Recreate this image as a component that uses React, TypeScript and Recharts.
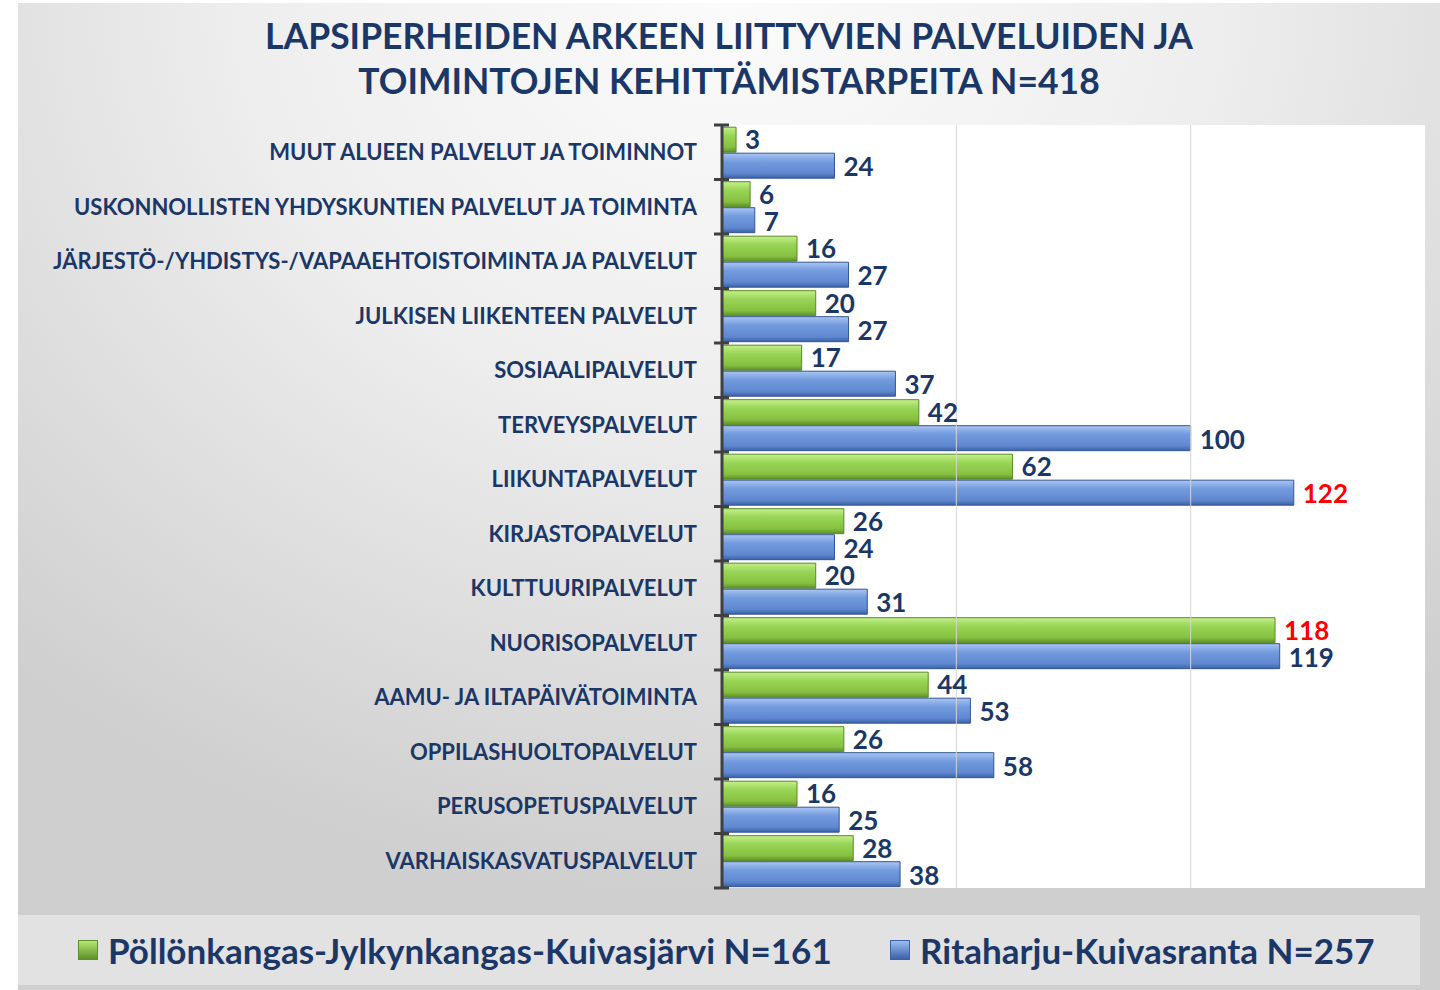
import { BarChart, Bar, XAxis, YAxis, ReferenceLine, CartesianGrid, LabelList } from 'recharts';

const categories = [
  'MUUT ALUEEN PALVELUT JA TOIMINNOT',
  'USKONNOLLISTEN YHDYSKUNTIEN PALVELUT JA TOIMINTA',
  'JÄRJESTÖ-/YHDISTYS-/VAPAAEHTOISTOIMINTA JA PALVELUT',
  'JULKISEN LIIKENTEEN PALVELUT',
  'SOSIAALIPALVELUT',
  'TERVEYSPALVELUT',
  'LIIKUNTAPALVELUT',
  'KIRJASTOPALVELUT',
  'KULTTUURIPALVELUT',
  'NUORISOPALVELUT',
  'AAMU- JA ILTAPÄIVÄTOIMINTA',
  'OPPILASHUOLTOPALVELUT',
  'PERUSOPETUSPALVELUT',
  'VARHAISKASVATUSPALVELUT',
];
const pollonkangas = [3, 6, 16, 20, 17, 42, 62, 26, 20, 118, 44, 26, 16, 28];
const ritaharju = [24, 7, 27, 27, 37, 100, 122, 24, 31, 119, 53, 58, 25, 38];
const seriesNames = ['Pöllönkangas-Jylkynkangas-Kuivasjärvi N=161', 'Ritaharju-Kuivasranta N=257'];
const titleLines = ['LAPSIPERHEIDEN ARKEEN LIITTYVIEN PALVELUIDEN JA', 'TOIMINTOJEN KEHITTÄMISTARPEITA N=418'];
const xDomain = [0, 150];
const gridValues = [50, 100];

const chartData = categories.map((name, i) => ({
  name,
  pollonkangas: pollonkangas[i],
  ritaharju: ritaharju[i],
}));

const NAVY = '#1b3768';
const FONT = 'Lato, "Open Sans", sans-serif';

const CategoryTick = (props: any) => {
  const { x, y, payload, index, visibleTicksCount } = props;
  const half = payload && typeof payload.offset === 'number' ? payload.offset : 27.25;
  return (
    <g>
      <line x1={x - 8} x2={x + 7} y1={y - half} y2={y - half} stroke="#404040" strokeWidth={3} />
      {index === visibleTicksCount - 1 && (
        <line x1={x - 8} x2={x + 7} y1={y + half} y2={y + half} stroke="#404040" strokeWidth={3} />
      )}
      <text x={x - 25} y={y} dy="0.36em" textAnchor="end" fill={NAVY} fontSize={22} fontWeight={700} fontFamily={FONT}>
        {payload.value}
      </text>
    </g>
  );
};

// red for the biggest value of the series
const makeValueLabel = (maxValue: number, shift: number) => (props: any) => {
  const { x, y, width, height, value } = props;
  return (
    <text
      x={Number(x) + Number(width) + 9}
      y={Number(y) + Number(height) / 2 + shift}
      dy="0.36em"
      fill={value === maxValue ? '#ff0000' : NAVY}
      fontSize={26}
      fontWeight={700}
      fontFamily={FONT}
    >
      {value}
    </text>
  );
};

const LegendSwatch = ({ color, dark }: { color: string; dark: string }) => (
  <span
    style={{
      display: 'inline-block',
      width: 20,
      height: 20,
      background: `linear-gradient(to bottom, ${color}, ${dark})`,
      border: `1px solid ${dark}`,
      boxSizing: 'border-box',
      marginRight: 10,
    }}
  />
);

export default function App() {
  return (
    <div style={{ position: 'absolute', left: 0, top: 0, width: 1440, height: 990, background: '#fff', overflow: 'hidden' }}>
      <div
        style={{
          position: 'absolute',
          left: 18,
          top: 3,
          width: 1422,
          height: 987,
          background: 'radial-gradient(ellipse 75% 90% at 50% 0%, #fbfbfb 0%, #eeeeee 45%, #cfcfcf 100%)',
        }}
      />
      <div
        style={{
          position: 'absolute',
          left: 18,
          top: 13,
          width: 1422,
          textAlign: 'center',
          color: NAVY,
          fontFamily: FONT,
          fontWeight: 700,
          fontSize: 35.5,
          lineHeight: '45px',
        }}
      >
        {titleLines.map((l) => (
          <div key={l}>{l}</div>
        ))}
      </div>
      <div style={{ position: 'absolute', left: 0, top: 0 }}>
        <BarChart
          width={1440}
          height={990}
          data={chartData}
          layout="vertical"
          margin={{ top: 125, right: 15, bottom: 102, left: 0 }}
          barCategoryGap="4%"
          barGap={1}
        >
          <defs>
            <linearGradient id="gGreen" x1="0" y1="0" x2="0" y2="1">
              <stop offset="0%" stopColor="#c4ef8a" />
              <stop offset="35%" stopColor="#98d455" />
              <stop offset="80%" stopColor="#86c040" />
              <stop offset="100%" stopColor="#5e8f2a" />
            </linearGradient>
            <linearGradient id="gBlue" x1="0" y1="0" x2="0" y2="1">
              <stop offset="0%" stopColor="#a9c5f2" />
              <stop offset="35%" stopColor="#729ade" />
              <stop offset="80%" stopColor="#5f88d0" />
              <stop offset="100%" stopColor="#3b62a8" />
            </linearGradient>
          </defs>
          <CartesianGrid fill="#ffffff" horizontal={false} vertical={false} />
          <XAxis type="number" domain={xDomain} hide />
          <YAxis
            type="category"
            dataKey="name"
            width={722}
            tickSize={0}
            tickMargin={0}
            tickLine={false}
            axisLine={{ stroke: '#404040', strokeWidth: 3 }}
            tick={<CategoryTick />}
            interval={0}
          />
          {gridValues.map((v) => (
            <ReferenceLine key={v} x={v} stroke="#d4d4d4" strokeWidth={1} />
          ))}
          <Bar dataKey="pollonkangas" name={seriesNames[0]} fill="url(#gGreen)" stroke="#5a8a28" strokeWidth={1} isAnimationActive={false}>
            <LabelList dataKey="pollonkangas" content={makeValueLabel(Math.max(...pollonkangas), 0)} />
          </Bar>
          <Bar dataKey="ritaharju" name={seriesNames[1]} fill="url(#gBlue)" stroke="#34578f" strokeWidth={1} isAnimationActive={false}>
            <LabelList dataKey="ritaharju" content={makeValueLabel(Math.max(...ritaharju), 1)} />
          </Bar>
        </BarChart>
      </div>
      <div
        style={{
          position: 'absolute',
          left: 18,
          top: 915,
          width: 1402,
          height: 70,
          background: '#e2e2e2',
          fontFamily: FONT,
          fontWeight: 700,
          fontSize: 35,
          color: NAVY,
        }}
      >
        <div style={{ position: 'absolute', left: 60, top: 0, height: 70, display: 'flex', alignItems: 'center' }}>
          <LegendSwatch color="#b4e870" dark="#5e8f2a" />
          {seriesNames[0]}
        </div>
        <div style={{ position: 'absolute', left: 872, top: 0, height: 70, display: 'flex', alignItems: 'center' }}>
          <LegendSwatch color="#9dbcf0" dark="#3b62a8" />
          {seriesNames[1]}
        </div>
      </div>
    </div>
  );
}
